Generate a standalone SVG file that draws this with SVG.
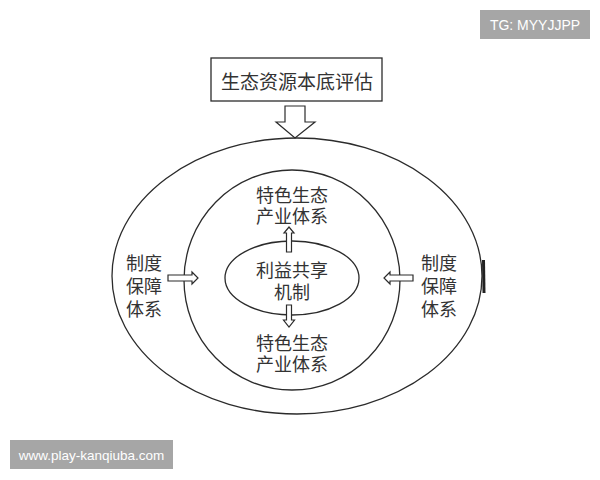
<svg xmlns="http://www.w3.org/2000/svg" width="600" height="480" viewBox="0 0 600 480">
<style>
.ln{fill:none;stroke:#2b2b2b;stroke-width:1.3}
.ar{fill:#fff;stroke:#2b2b2b;stroke-width:1.2;stroke-linejoin:miter}
.t{font-family:"Noto Sans CJK SC","Noto Sans CJK JP",sans-serif;fill:#333;text-anchor:middle;dominant-baseline:central}
.wm{font-family:"Liberation Sans",Arial,sans-serif;fill:#fff;text-anchor:middle;dominant-baseline:central}
</style>
<rect width="600" height="480" fill="#fff"/>
<g id="watermark-tg">
<rect x="480" y="10" width="110" height="29" fill="#a6a6a6"/>
<text class="wm" x="535" y="25" font-size="14">TG: MYYJJPP</text>
</g>
<g id="watermark-url">
<rect x="10" y="440" width="163" height="29" fill="#a6a6a6"/>
<text class="wm" x="91.5" y="455" font-size="13.5">www.play-kanqiuba.com</text>
</g>
<g id="outer">
<ellipse class="ln" cx="297" cy="276" rx="185" ry="138"/>
<path d="M483.5 260 L484 293" stroke="#222" stroke-width="3" fill="none"/>
<text class="t" x="144" y="262" font-size="18">制度</text>
<text class="t" x="144" y="285" font-size="18">保障</text>
<text class="t" x="144" y="308" font-size="18">体系</text>
<text class="t" x="439" y="262" font-size="18">制度</text>
<text class="t" x="439" y="285" font-size="18">保障</text>
<text class="t" x="439" y="308" font-size="18">体系</text>
</g>
<g id="inner">
<ellipse class="ln" cx="292" cy="280" rx="108" ry="110"/>
<text class="t" x="292" y="194" font-size="18">特色生态</text>
<text class="t" x="292" y="215" font-size="18">产业体系</text>
<text class="t" x="292" y="342" font-size="18">特色生态</text>
<text class="t" x="292" y="363" font-size="18">产业体系</text>
</g>
<g id="core">
<ellipse class="ln" cx="292" cy="278" rx="67" ry="37"/>
<text class="t" x="292" y="269" font-size="18">利益共享</text>
<text class="t" x="292" y="291" font-size="18">机制</text>
</g>
<g id="source">
<rect class="ln" x="211" y="58" width="171" height="43"/>
<text class="t" x="297" y="80" font-size="19">生态资源本底评估</text>
</g>
<g id="connectors">
<polygon class="ar" points="285,106 305,106 305,122 315,122 295,138 276,122 285,122"/>
<polygon class="ar" points="286.5,252 291.5,252 291.5,233 294,233 289,227 284,233 286.5,233"/>
<polygon class="ar" points="286.5,305 291.5,305 291.5,320 294.5,320 289,327 283.5,320 286.5,320"/>
<polygon class="ar" points="168,275 192,275 192,272 198,278 192,284 192,281 168,281"/>
<polygon class="ar" points="413,275 390,275 390,272 384,278 390,284 390,281 413,281"/>
</g>
</svg>
